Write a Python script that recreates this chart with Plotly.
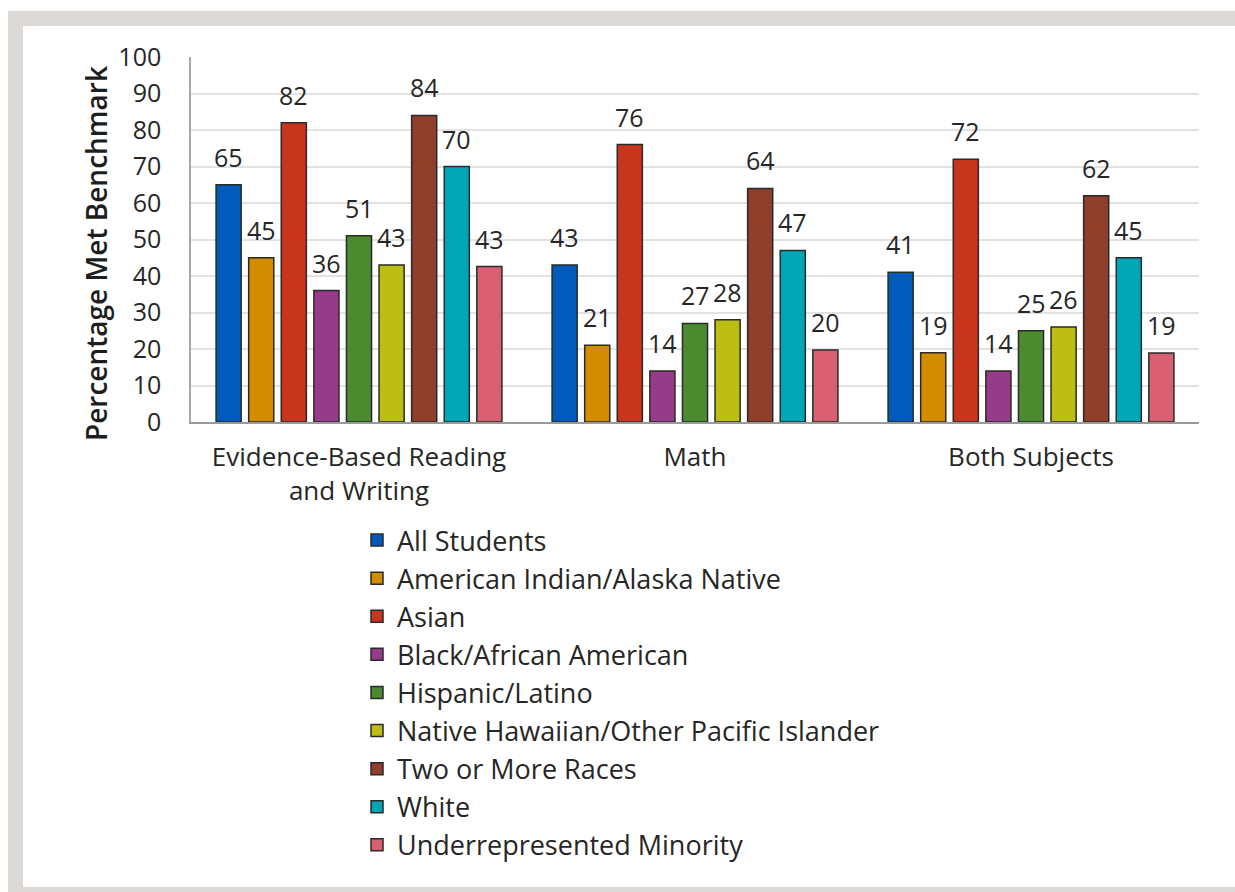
import plotly.graph_objects as go

subjects = ["Evidence-Based Reading<br>and Writing", "Math", "Both Subjects"]

groups = [
    "All Students",
    "American Indian/Alaska Native",
    "Asian",
    "Black/African American",
    "Hispanic/Latino",
    "Native Hawaiian/Other Pacific Islander",
    "Two or More Races",
    "White",
    "Underrepresented Minority",
]

# percent met benchmark, per group: [EBRW, Math, Both]
all_students = [65, 43, 41]
am_indian = [45, 21, 19]
asian = [82, 76, 72]
black = [36, 14, 14]
hispanic = [51, 27, 25]
hawaiian = [43, 28, 26]
two_more = [84, 64, 62]
white = [70, 47, 45]
urm = [42.6, 19.7, 18.9]

series = [all_students, am_indian, asian, black, hispanic,
          hawaiian, two_more, white, urm]

colors = ["#005bbb", "#d38b00", "#c8361e", "#963a8a", "#4b8a2e",
          "#bcbf12", "#8f3f2c", "#00a6b5", "#d95f72"]

FONT = "Open Sans"
TXT = "#262626"

W, H = 1235, 892
ML, MR, MT, MB = 191, 36, 57, 470
PW, PH = W - ML - MR, H - MT - MB
BARGAP = 0.127
BARGROUPGAP = 0.23


def px_x(px):
    return (px - ML) / PW


def px_y(py):
    return (H - MB - py) / PH


fig = go.Figure()
for name, vals, col in zip(groups, series, colors):
    fig.add_trace(go.Bar(
        x=subjects, y=vals, name=name,
        marker=dict(color=col, line=dict(color="#2a2a2a", width=1.5)),
        hoverinfo="skip",
    ))

# value labels above each bar
slot = PW / len(subjects) * (1 - BARGAP) / len(groups)
for gi, vals in enumerate(series):
    for si, v in enumerate(vals):
        fig.add_annotation(
            x=subjects[si], y=v, text=f"{v:.0f}",
            xshift=(gi - (len(groups) - 1) / 2) * slot,
            yshift=28, showarrow=False, yanchor="middle",
            font=dict(family=FONT, size=25, color=TXT),
        )

# y axis title
fig.add_annotation(
    xref="paper", yref="paper", x=px_x(96), y=px_y(254),
    xanchor="center", yanchor="middle",
    text="Percentage Met Benchmark", textangle=-90, showarrow=False,
    font=dict(family=FONT, size=28, color="#1e1e1e", weight=600),
)

# grey frame around the figure
frame = "#dcd9d6"
for x0, y0, x1, y1 in [(8, 11, 23, 892), (8, 11, 1235, 26), (8, 887, 1235, 892)]:
    fig.add_shape(
        type="rect", xref="paper", yref="paper", layer="below",
        x0=px_x(x0), x1=px_x(x1), y0=px_y(y0), y1=px_y(y1),
        fillcolor=frame, line=dict(width=0),
    )

fig.update_layout(
    width=W, height=H,
    margin=dict(l=ML, r=MR, t=MT, b=MB),
    barmode="group", bargap=BARGAP, bargroupgap=BARGROUPGAP,
    paper_bgcolor="white", plot_bgcolor="white",
    font=dict(family=FONT, color=TXT),
    showlegend=True,
    legend=dict(
        x=px_x(357), y=px_y(516), xanchor="left", yanchor="top",
        font=dict(family=FONT, size=27, color=TXT),
        bgcolor="rgba(0,0,0,0)", traceorder="normal",
    ),
    xaxis=dict(
        showline=True, linecolor="#9a9a9a", linewidth=2,
        tickfont=dict(family=FONT, size=26, color=TXT),
        ticks="", ticklabelstandoff=11,
    ),
    yaxis=dict(
        range=[0, 100], dtick=10, showline=True, linecolor="#a8a8a8",
        linewidth=1.5, showgrid=True, gridcolor="#e2e2e2", gridwidth=2,
        zeroline=False, ticks="", ticklabelstandoff=23,
        tickfont=dict(family=FONT, size=25, color=TXT),
    ),
)

fig.write_html(
    "out.html",
    config={"displayModeBar": False},
    post_script="document.body.style.margin='0';document.body.style.overflow='hidden';",
)
